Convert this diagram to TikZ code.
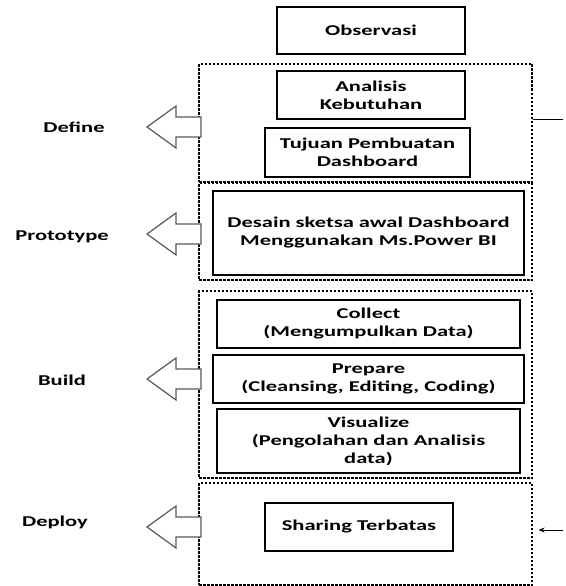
\documentclass[tikz,border=0pt]{standalone}
\usepackage{fontspec}
\setmainfont{Carlito}[FakeStretch=1.5]
\usetikzlibrary{arrows.meta}
\tikzset{
  box/.style={draw=black, line width=1.3pt, align=center, inner sep=0pt,
    font=\bfseries\fontsize{15}{18}\selectfont},
  phase/.style={draw=black, line width=1.1pt, dash pattern=on 2.5pt off 1.5pt},
  lbl/.style={font=\bfseries\fontsize{15}{18}\selectfont, inner sep=0pt},
  arrowstyle/.style={draw=black!65, line width=1.2pt, line join=miter, fill=white},
  phasearrow/.pic={\draw[arrowstyle] (0,0) -- (29,-21) -- (29,-10) -- (54,-10) -- (54,10) -- (29,10) -- (29,21) -- cycle;}
}
\begin{document}
\begin{tikzpicture}[x=1pt,y=-1pt]
\useasboundingbox (0,0) rectangle (565,586);
% dashed phase boxes
\node[phase, minimum width=333pt, minimum height=118pt] (def) at (365.5,123) {};
\node[phase, minimum width=333pt, minimum height=97pt] (pro) at (365.5,231.5) {};
\node[phase, minimum width=333pt, minimum height=187pt] (bld) at (365.5,384.5) {};
\node[phase, minimum width=333pt, minimum height=102pt] (dep) at (365.5,534) {};
% step boxes
\node[box, minimum width=188pt, minimum height=47pt] (obs) at (371,30.5) {Observasi};
\node[box, minimum width=188pt, minimum height=48pt] (ana) at (371,95) {Analisis\\Kebutuhan};
\node[box, minimum width=205pt, minimum height=49pt] (tuj) at (367.5,152.5) {Tujuan Pembuatan\\Dashboard};
\node[box, minimum width=311pt, minimum height=84pt] (des) at (368.5,233) {Desain sketsa awal Dashboard\\Menggunakan Ms.Power BI};
\node[box, minimum width=303pt, minimum height=48pt] (col) at (368.5,324) {Collect\\(Mengumpulkan Data)};
\node[box, minimum width=311pt, minimum height=48pt] (pre) at (368.5,379) {Prepare\\(Cleansing, Editing, Coding)};
\node[box, minimum width=303pt, minimum height=64pt] (vis) at (368.5,441) {Visualize\\(Pengolahan dan Analisis\\data)};
\node[box, minimum width=188pt, minimum height=48pt] (sha) at (359,527) {Sharing Terbatas};
% phase arrows
\pic at (147,127) {phasearrow};
\pic at (147,234) {phasearrow};
\pic at (147,379) {phasearrow};
\pic at (147,527) {phasearrow};
% labels
\node[lbl] (ldef) at (74,127) {Define};
\node[lbl] (lpro) at (62,237) {Prototype};
\node[lbl] (lbld) at (62,380) {Build};
\node[lbl] (ldep) at (55,522) {Deploy};
% right side connectors
\coordinate (outR) at (563,119);
\coordinate (inR) at (563,530);
\draw[line width=1pt] (outR -| def.east) -- (outR);
\draw[line width=1pt, -{Stealth[length=6pt,width=5pt]}] (inR) -- ([xshift=6pt]inR -| dep.east);
\end{tikzpicture}
\end{document}
